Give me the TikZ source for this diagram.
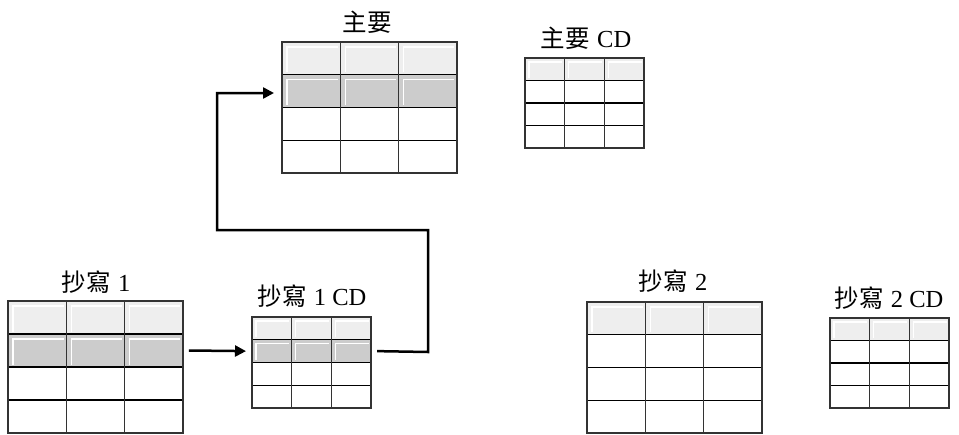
\documentclass[tikz,border=0pt]{standalone}
\usepackage{fontspec}
\setmainfont{Liberation Serif}
\newfontfamily\cjk{Noto Sans CJK TC}
\usetikzlibrary{arrows.meta}
\definecolor{rowlight}{HTML}{EEEEEE}
\definecolor{rowdark}{HTML}{CCCCCC}
\definecolor{vgrid}{HTML}{333333}
\tikzset{
  tablebox/.style={rectangle, inner sep=0pt, outer sep=0pt},
  hgrid/.style={black, line width=1.4pt},
  vgridline/.style={vgrid, line width=1.4pt},
  tborder/.style={vgrid, line width=1.4pt},
  bevel/.style={white, line width=1.2pt},
  title/.style={font=\fontsize{24.5}{28}\selectfont, inner sep=0pt},
  link/.style={black, line width=2.5pt, -{Triangle[length=11pt,width=11pt]}},
}
\newcommand\cjkgap{\hspace{0.3em}}
% #1 name, #2 left, #3 top, #4 col width, #5 row height, #6 gray rows (1 or 2), #7 bevel inset
\newcommand\gtable[7]{%
  \node[tablebox, anchor=north west, minimum width={3*#4pt}, minimum height={4*#5pt}] (#1) at (#2,#3) {};
  \fill[rowlight] (#2,#3) rectangle ({#2+3*#4},{#3+#5});
  \ifnum#6=2 \fill[rowdark] (#2,{#3+#5}) rectangle ({#2+3*#4},{#3+2*#5}); \fi
  \foreach \r in {1,...,#6}{
    \foreach \c in {0,1,2}{
      \draw[bevel] ({#2+\c*#4+#7},{#3+\r*#5-2.5}) -- ({#2+\c*#4+#7},{#3+(\r-1)*#5+#7}) -- ({#2+(\c+1)*#4-2.5},{#3+(\r-1)*#5+#7});
    }
  }
  \foreach \r in {1,2,3}{\draw[hgrid] (#2,{#3+\r*#5}) -- ({#2+3*#4},{#3+\r*#5});}
  \foreach \c in {1,2}{\draw[vgridline] ({#2+\c*#4},#3) -- ({#2+\c*#4},{#3+4*#5});}
  \draw[tborder] (#1.north west) rectangle (#1.south east);
  \coordinate (#1-r2w) at (#2,{#3+1.5*#5});
  \coordinate (#1-r2e) at ({#2+3*#4},{#3+1.5*#5});
}
\begin{document}
\begin{tikzpicture}[x=1pt,y=-1pt]
\useasboundingbox (0,0) rectangle (959,434);
\gtable{main}{282}{42}{58.3}{32.75}{2}{5}
\gtable{mcd}{525}{58}{39.7}{22.5}{1}{4}
\gtable{sa}{8}{301}{58.3}{33}{2}{5}
\gtable{sacd}{252}{317}{39.7}{22.75}{2}{4}
\gtable{sb}{587}{302}{58.3}{32.75}{1}{5}
\gtable{sbcd}{830}{318}{39.7}{22.5}{1}{4}

\node[title] (tmain) at (367,22) {{\cjk 主要}};
\node[title] (tmcd) at (586,38) {{\cjk 主要}\cjkgap CD};
\node[title] (tsa) at (96,282) {{\cjk 抄寫}\cjkgap 1};
\node[title] (tsacd) at (312,296) {{\cjk 抄寫}\cjkgap 1 CD};
\node[title] (tsb) at (673,281) {{\cjk 抄寫}\cjkgap 2};
\node[title] (tsbcd) at (889,298) {{\cjk 抄寫}\cjkgap 2 CD};

\coordinate (c1) at (428,352);
\coordinate (c2) at (428,230);
\coordinate (c3) at (217,230);
\coordinate (c4) at (217,93);
\draw[link] ([xshift=6pt]sa-r2e) -- ([xshift=-6pt]sacd-r2w);
\draw[link] ([xshift=6pt]sacd-r2e) -- (c1) -- (c2) -- (c3) -- (c4) -- ([xshift=-8pt]main-r2w |- c4);
\end{tikzpicture}
\end{document}
